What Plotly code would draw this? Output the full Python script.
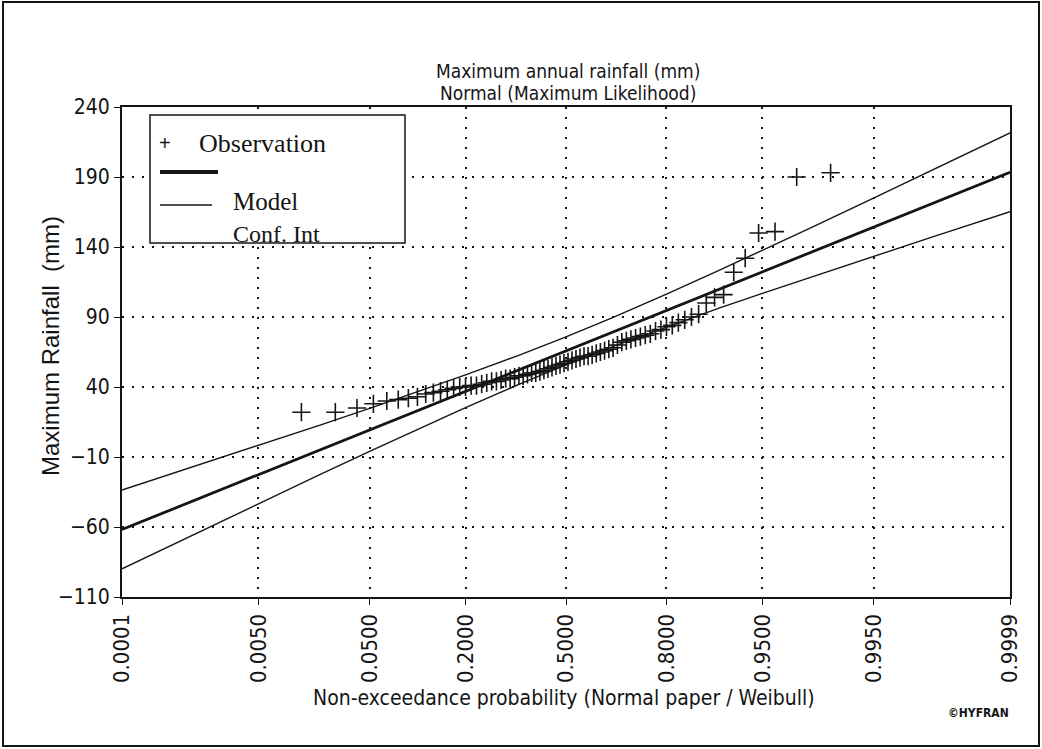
from statistics import NormalDist
import plotly.graph_objects as go

# ---------------- data ----------------
tick_probs = [0.0001, 0.0050, 0.0500, 0.2000, 0.5000, 0.8000, 0.9500, 0.9950, 0.9999]
tick_labels = ["0.0001", "0.0050", "0.0500", "0.2000", "0.5000", "0.8000", "0.9500", "0.9950", "0.9999"]
y_ticks = [-110, -60, -10, 40, 90, 140, 190, 240]

# sorted observations (mm), plotted at Weibull positions i/(n+1)
obs_values = [22, 22, 25, 28, 30, 31, 32, 33, 35, 36,
              37, 38, 39, 40, 40, 41, 41, 42, 43, 44,
              44, 45, 46, 46, 47, 48, 48, 49, 50, 50,
              51, 52, 53, 54, 55, 56, 57, 58, 59, 60,
              61, 62, 62, 63, 64, 65, 66, 67, 68, 70,
              72, 73, 74, 75, 76, 77, 78, 80, 81, 83,
              84, 86, 88, 90, 92, 100, 104, 106, 122, 132,
              150, 151, 190, 193]

# model and confidence interval, read at these probabilities
curve_probs = [0.0001, 0.0010, 0.0050, 0.0200, 0.0500, 0.1000, 0.2000, 0.3500,
               0.5000, 0.6500, 0.8000, 0.9000, 0.9500, 0.9800, 0.9950, 0.9990, 0.9999]
model_vals = [-61.8, -40.2, -22.6, -4.6, 9.4, 21.8, 36.9, 52.6,
              65.8, 79.0, 94.7, 109.8, 122.2, 136.2, 154.2, 171.8, 193.4]
upper_vals = [-33.6, -16.2, -1.8, 13.0, 24.7, 35.3, 48.6, 62.9,
              75.8, 89.4, 106.3, 123.3, 137.6, 153.9, 174.9, 195.8, 221.5]
lower_vals = [-89.9, -64.2, -43.3, -22.3, -6.0, 8.3, 25.3, 42.2,
              55.8, 68.7, 83.0, 96.3, 106.9, 118.6, 133.4, 147.8, 165.2]

# ---------------- transforms (normal probability paper) ----------------
nd = NormalDist()
zq = nd.inv_cdf
n_obs = len(obs_values)
obs_x = [zq((i + 1) / (n_obs + 1)) for i in range(n_obs)]
curve_x = [zq(p) for p in curve_probs]
tick_x = [zq(p) for p in tick_probs]

W, H = 1042, 749
L, R, T, B = 122, 32, 107, 152
PW, PH = W - L - R, H - T - B


def px(x):
    return (x - L) / PW


def py(y):
    return (H - B - y) / PH


INK = "#151515"
NARROW = "DejaVu Sans Condensed, Liberation Sans Narrow, Arial Narrow, sans-serif"
SANS = "Liberation Sans, Arial, sans-serif"
SERIF = "Liberation Serif, Times New Roman, serif"

fig = go.Figure()
fig.add_trace(go.Scatter(x=curve_x, y=upper_vals, mode="lines",
                         line=dict(color=INK, width=1.4), showlegend=False))
fig.add_trace(go.Scatter(x=curve_x, y=lower_vals, mode="lines",
                         line=dict(color=INK, width=1.4), showlegend=False))
fig.add_trace(go.Scatter(x=curve_x, y=model_vals, mode="lines",
                         line=dict(color=INK, width=2.8), showlegend=False))
fig.add_trace(go.Scatter(x=obs_x, y=obs_values, mode="markers",
                         marker=dict(symbol="cross-thin", size=13,
                                     line=dict(color=INK, width=1.6)),
                         showlegend=False))

shapes = [
    # outer frame of the picture
    dict(type="rect", xref="paper", yref="paper", x0=px(3), x1=px(1039), y0=py(746), y1=py(2),
         line=dict(color=INK, width=2), fillcolor="rgba(0,0,0,0)", layer="below"),
    # legend box
    dict(type="rect", xref="paper", yref="paper", x0=px(150), x1=px(405), y0=py(243), y1=py(115),
         line=dict(color=INK, width=1.5), fillcolor="white", layer="above"),
    # thick sample
    dict(type="line", xref="paper", yref="paper", x0=px(160), x1=px(218), y0=py(172), y1=py(172),
         line=dict(color=INK, width=4), layer="above"),
    # thin sample
    dict(type="line", xref="paper", yref="paper", x0=px(160), x1=px(212), y0=py(205), y1=py(205),
         line=dict(color=INK, width=1.5), layer="above"),
]

ann = [
    dict(text="Maximum annual rainfall (mm)", x=px(568), y=py(71), font=dict(family=NARROW, size=19, color=INK)),
    dict(text="Normal (Maximum Likelihood)", x=px(568), y=py(93), font=dict(family=NARROW, size=19, color=INK)),
    dict(text="Maximum Rainfall  (mm)", x=px(50), y=py(346), textangle=-90, font=dict(family=SANS, size=24, color=INK)),
    dict(text="Non-exceedance probability (Normal paper / Weibull)", x=px(564), y=py(698),
         font=dict(family=NARROW, size=21, color=INK)),
    dict(text="<b>©HYFRAN</b>", x=px(978), y=py(713), font=dict(family=NARROW, size=12, color=INK)),
    dict(text="+", x=px(165), y=py(143), font=dict(family=SANS, size=20, color=INK)),
    dict(text="Observation", x=px(197), y=py(143), xanchor="left", font=dict(family=SERIF, size=26, color=INK)),
    dict(text="Model", x=px(231), y=py(201), xanchor="left", font=dict(family=SERIF, size=25, color=INK)),
    dict(text="Conf. Int", x=px(231), y=py(219), xanchor="left", yanchor="top", font=dict(family=SERIF, size=24, color=INK)),
]
for a in ann:
    a.setdefault("xref", "paper")
    a.setdefault("yref", "paper")
    a.setdefault("showarrow", False)
    a.setdefault("xanchor", "center")
    a.setdefault("yanchor", "middle")

fig.update_layout(
    width=W, height=H,
    margin=dict(l=L, r=R, t=T, b=B),
    paper_bgcolor="white", plot_bgcolor="white",
    shapes=shapes, annotations=ann,
    showlegend=False,
    xaxis=dict(range=[tick_x[0], tick_x[-1]], tickmode="array", tickvals=tick_x, ticktext=tick_labels,
               tickangle=-90, tickfont=dict(family=NARROW, size=22, color=INK),
               showgrid=True, gridcolor=INK, gridwidth=2, griddash="2px,8px",
               showline=True, linecolor=INK, linewidth=2, mirror=True,
               ticks="outside", ticklen=6, tickcolor=INK, zeroline=False),
    yaxis=dict(range=[-110, 240], tickmode="array", tickvals=y_ticks,
               tickfont=dict(family=NARROW, size=21, color=INK),
               showgrid=True, gridcolor=INK, gridwidth=2, griddash="2px,8px",
               showline=True, linecolor=INK, linewidth=2, mirror=True,
               ticks="outside", ticklen=6, tickcolor=INK, zeroline=False),
)

fig.write_html("out.html", config={"displayModeBar": False},
               post_script="document.body.style.margin='0px';document.body.style.overflow='hidden';")
